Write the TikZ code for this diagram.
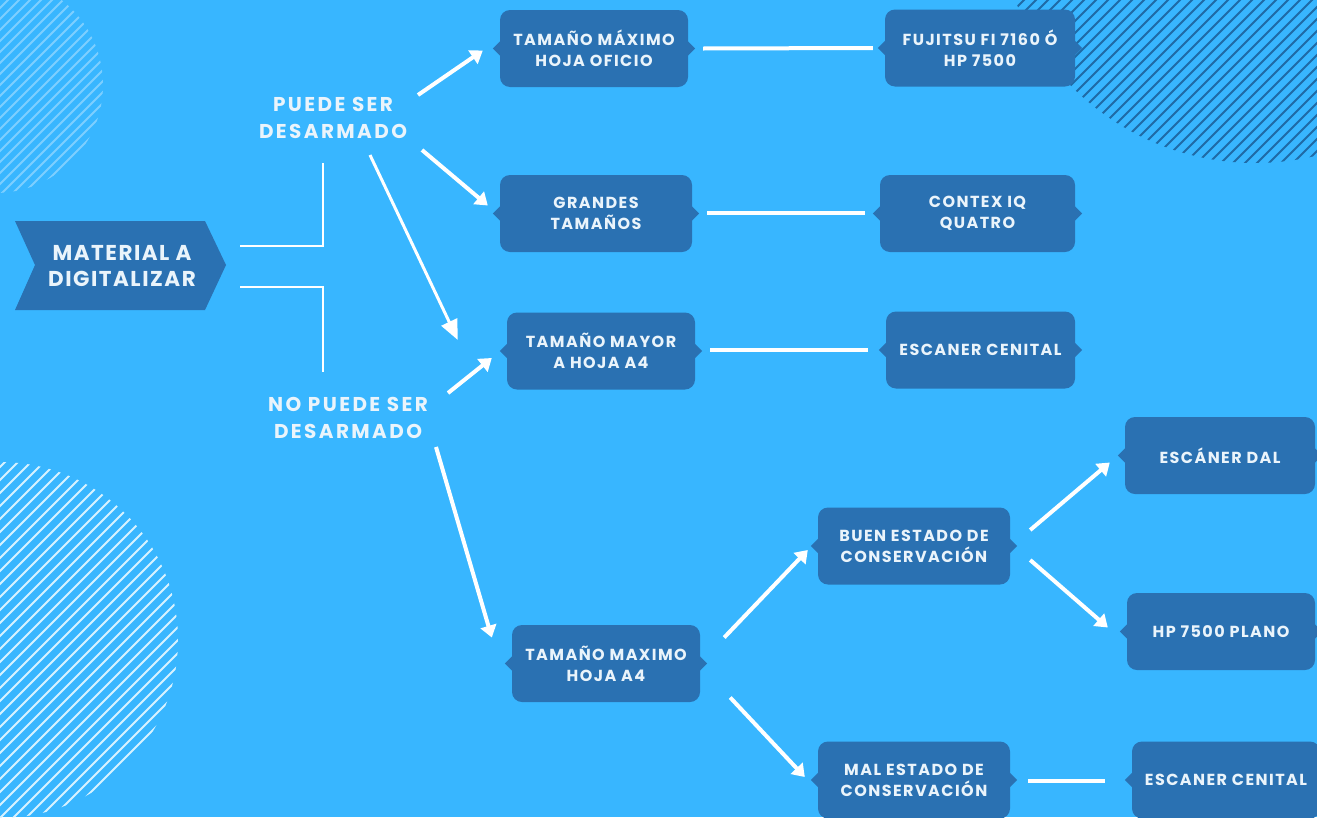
\documentclass[tikz,border=0pt]{standalone}
\usepackage{fontspec}
\setmainfont{Poppins}
\newfontfamily\boxfont{Poppins}[LetterSpace=9]
\newfontfamily\lblfont{Poppins}[LetterSpace=12]
\newfontfamily\matfont{Poppins}[LetterSpace=7]
\usetikzlibrary{arrows.meta,calc}
\definecolor{bg}{HTML}{38B6FF}
\definecolor{boxc}{HTML}{2A71B2}
\definecolor{txt}{HTML}{EAF4FB}
\definecolor{hatchA}{HTML}{7DCFFF}
\definecolor{hatchB}{HTML}{D6F2FF}
\definecolor{hatchC}{HTML}{1F6AA6}
\tikzset{
  stepbox/.style={fill=boxc, rounded corners=10pt, minimum width=#1, minimum height=77pt,
    inner sep=0pt, text=txt, font=\boxfont\bfseries\fontsize{16}{21}\selectfont, align=center},
  stepbox/.default=188pt,
  lbl/.style={text=txt, font=\lblfont\bfseries\fontsize{20}{27}\selectfont, align=center, inner sep=0pt},
  arr/.style={draw=white, line width=4pt, -{Triangle[length=12pt,width=16pt]}},
  thinarr/.style={draw=white, line width=3pt, -{Triangle[length=20pt,width=17pt]}},
  conn/.style={draw=white, line width=4pt},
  brk/.style={draw=white, line width=2.8pt},
}
\begin{document}
\begin{tikzpicture}[x=1pt,y=-1pt]
\useasboundingbox (0,0) rectangle (1317,817);
\fill[bg] (0,0) rectangle (1317,817);
% decorations
\begin{scope}
\clip (-5,85) circle (108);
\foreach \c in {-300,-289,...,400} \draw[hatchA, line width=2pt] (\c+60,-60) -- (\c-260,260);
\end{scope}
\begin{scope}
\clip (0,640) circle (178);
\foreach \c in {-100,-87,...,500} \draw[hatchB, line width=2pt] (\c+50,400) -- (\c-450,900);
\end{scope}
\begin{scope}
\clip (1255,-95) circle (258);
\foreach \c in {760,772,...,1700} \draw[hatchC, line width=2pt] (\c+100,-100) -- (\c-300,300);
\end{scope}
% main chevron
\fill[boxc] (15,221) -- (205,221) -- (226,265) -- (205,310) -- (15,310) -- (35,265) -- cycle;
\node[text=txt, font=\matfont\bfseries\fontsize{21.5}{26}\selectfont, align=center] (mat) at (122,266) {MATERIAL A\\DIGITALIZAR};
% labels
\node[lbl] (puede) at (333,118) {PUEDE SER\\DESARMADO};
\node[lbl] (nopuede) at (348,418) {NO PUEDE SER\\DESARMADO};
% boxes
\node[stepbox] (b1) at (594,48.5) {TAMAÑO MÁXIMO\\HOJA OFICIO};
\node[stepbox=192pt] (b2) at (596,213.5) {GRANDES\\TAMAÑOS};
\node[stepbox] (b3) at (601,351) {TAMAÑO MAYOR\\A HOJA A4};
\node[stepbox] (b4) at (606,663.5) {TAMAÑO MAXIMO\\HOJA A4};
\node[stepbox=190pt] (c1) at (980,48) {FUJITSU FI 7160 Ó\\HP 7500};
\node[stepbox=195pt] (c2) at (977.5,213.5) {CONTEX IQ\\QUATRO};
\node[stepbox=189pt] (c3) at (980.5,350) {ESCANER CENITAL};
\node[stepbox=192pt] (c4) at (914,546) {BUEN ESTADO DE\\CONSERVACIÓN};
\node[stepbox=192pt] (c5) at (914,780) {MAL ESTADO DE\\CONSERVACIÓN};
\node[stepbox=190pt] (d1) at (1220,455.5) {ESCÁNER DAL};
\node[stepbox] (d2) at (1221,631.5) {HP 7500 PLANO};
\node[stepbox] (d3) at (1226,780) {ESCANER CENITAL};
\foreach \n in {b1,b2,b3,b4,c1,c2,c3,c4,c5,d1,d2,d3}{
  \fill[boxc] ($(\n.west)+(2,-9)$) -- ($(\n.west)+(-7,0)$) -- ($(\n.west)+(2,9)$) -- cycle;
  \fill[boxc] ($(\n.east)+(-2,-9)$) -- ($(\n.east)+(7,0)$) -- ($(\n.east)+(-2,9)$) -- cycle;
}
% bracket
\draw[brk] ($(mat)+(118,-20)$) -| ($(puede)+(-10,45)$);
\draw[brk] ($(mat)+(118,21)$) -| ($(nopuede)+(-25,-46)$);
% arrows
\draw[arr] ($(puede)+(85,-23)$) -- ($(b1.west)+(-17,2)$);
\draw[arr] ($(puede)+(89,32)$) -- ($(b2.west)+(-12,-8)$);
\draw[thinarr] ($(puede)+(37,37)$) -- ($(b3.west)+(-49,-11)$);
\draw[arr] ($(nopuede)+(100,-25)$) -- ($(b3.west)+(-15,7)$);
\draw[arr] ($(nopuede)+(88,29)$) -- ($(b4.west)+(-20,-26)$);
\draw[conn] ($(b1.east)+(15,0)$) -- ($(c1.west)+(-12,0)$);
\draw[conn] ($(b2.east)+(15,-1)$) -- ($(c2.west)+(-15,-1)$);
\draw[conn] ($(b3.east)+(15,-1)$) -- ($(c3.west)+(-18,0)$);
\draw[arr] ($(b4.east)+(24,-26)$) -- ($(c4.west)+(-10,4)$);
\draw[arr] ($(b4.east)+(30,34)$) -- ($(c5.west)+(-13,-3)$);
\draw[arr] ($(c4.east)+(20,-16)$) -- ($(d1.west)+(-15,7)$);
\draw[arr] ($(c4.east)+(20,14)$) -- ($(d2.west)+(-19,-4)$);
\draw[conn] ($(c5.east)+(18,1)$) -- ($(d3.west)+(-27,1)$);
\end{tikzpicture}
\end{document}
